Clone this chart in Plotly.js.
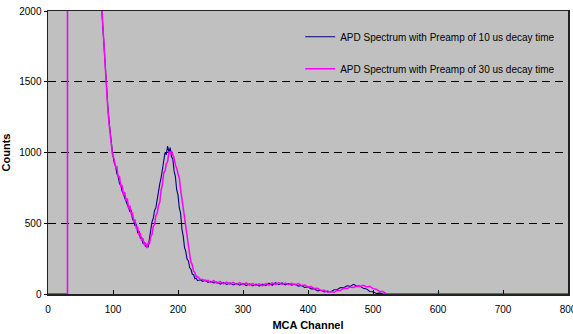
<!DOCTYPE html>
<html>
<head>
<meta charset="utf-8">
<script src="https://cdn.plot.ly/plotly-3.0.1.min.js"></script>
<style>html,body{margin:0;padding:0;background:#fff;}#chart{width:573px;height:334px;}</style>
</head>
<body>
<div id="chart"></div>
<script>
// Series names
const seriesNames = ["APD Spectrum with Preamp of 10 us decay time", "APD Spectrum with Preamp of 30 us decay time"];

// 10 us decay time: MCA channel and counts
const chan10 = [0, 30, 30, 40, 50, 60, 70, 80, 83,
  86, 89, 92, 94, 97, 99, 102, 104, 106, 108,
  110, 112, 114, 116, 118, 120, 122, 124, 126, 128,
  130, 132, 134, 136, 138, 140, 142, 144, 146, 148,
  150, 152, 154, 156, 158, 160, 162, 164, 166, 168,
  170, 172, 174, 176, 178, 180, 182, 184, 186, 188,
  190, 192, 194, 196, 198, 200, 202, 204, 206, 208,
  210, 212, 214, 216, 218, 220, 222, 224, 226, 228,
  230, 234, 238, 242, 246, 250, 255, 260, 265, 270,
  275, 280, 285, 290, 295, 300, 305, 310, 315, 320,
  325, 330, 335, 340, 345, 350, 355, 360, 365, 370,
  375, 380, 385, 390, 395, 400, 405, 410, 415, 420,
  425, 430, 435, 440, 445, 450, 455, 460, 465, 470,
  475, 480, 485, 490, 495, 500, 505, 510, 515, 520,
  530, 540, 560, 600, 700, 800];
const counts10 = [0, 0, 9000, 5600, 4600, 3700, 2900, 2200, 1990,
  1760, 1510, 1330, 1220, 1090, 1005, 925, 905, 850, 835,
  780, 770, 725, 710, 680, 660, 630, 610, 580, 595,
  530, 515, 480, 495, 430, 445, 395, 400, 360, 365,
  335, 350, 330, 400, 450, 510, 535, 590, 610, 680,
  710, 780, 820, 890, 935, 1000, 985, 1045, 1005, 1035,
  970, 955, 870, 830, 735, 700, 610, 570, 460, 410,
  330, 300, 245, 235, 185, 175, 140, 138, 108, 112,
  94, 100, 90, 98, 82, 90, 78, 84, 70, 80,
  68, 78, 64, 74, 62, 74, 60, 72, 58, 70,
  56, 70, 60, 76, 62, 80, 66, 78, 64, 74,
  62, 70, 56, 60, 46, 50, 36, 36, 22, 26,
  14, 20, 14, 30, 32, 46, 44, 58, 54, 68,
  56, 56, 40, 36, 18, 16, 4, 6, 1, 2,
  0, 0, 0, 0, 0, 0];

// 30 us decay time: MCA channel and counts
const chan30 = [0, 30, 30, 40, 50, 60, 70, 80, 83,
  86, 89, 92, 94, 97, 99, 102, 104, 106, 108,
  110, 112, 114, 116, 118, 120, 122, 124, 126, 128,
  130, 132, 134, 136, 138, 140, 142, 144, 146, 148,
  150, 152, 154, 156, 158, 160, 162, 164, 166, 168,
  170, 172, 174, 176, 178, 180, 182, 184, 186, 188,
  190, 192, 194, 196, 198, 200, 202, 204, 206, 208,
  210, 212, 214, 216, 218, 220, 222, 224, 226, 228,
  230, 234, 238, 242, 246, 250, 255, 260, 265, 270,
  275, 280, 285, 290, 295, 300, 305, 310, 315, 320,
  325, 330, 335, 340, 345, 350, 355, 360, 365, 370,
  375, 380, 385, 390, 395, 400, 405, 410, 415, 420,
  425, 430, 435, 440, 445, 450, 455, 460, 465, 470,
  475, 480, 485, 490, 495, 500, 505, 510, 515, 520,
  530, 540, 560, 600, 700, 800];
const counts30 = [0, 0, 9000, 5600, 4600, 3700, 2900, 2200, 2000,
  1740, 1500, 1310, 1200, 1070, 990, 950, 895, 900, 825,
  830, 760, 770, 700, 720, 660, 675, 605, 625, 565,
  575, 510, 525, 460, 475, 415, 430, 375, 395, 345,
  365, 325, 360, 350, 405, 420, 480, 490, 555, 570,
  625, 650, 735, 770, 855, 870, 920, 935, 1000, 995,
  1010, 985, 960, 910, 890, 850, 820, 740, 670, 590,
  540, 460, 410, 310, 280, 225, 205, 160, 152, 122,
  124, 104, 102, 92, 96, 82, 94, 76, 88, 72,
  84, 70, 82, 68, 80, 66, 78, 62, 74, 60,
  72, 58, 74, 62, 78, 66, 80, 68, 78, 66,
  76, 64, 74, 60, 64, 50, 52, 38, 40, 24,
  26, 12, 18, 12, 24, 24, 40, 38, 50, 46,
  56, 52, 62, 50, 54, 38, 34, 18, 18, 4,
  3, 0, 0, 0, 0, 0];

// Axis ticks
const xTicks = [0, 100, 200, 300, 400, 500, 600, 700, 800];
const yTicks = [0, 500, 1000, 1500, 2000];

const font = "Liberation Sans, Arial, Helvetica, sans-serif";

const traces = [
  {x: chan10, y: counts10, type: "scatter", mode: "lines", name: seriesNames[0],
   legendgroup: "a", line: {color: "#000080", width: 1.1}},
  {x: chan30, y: counts30, type: "scatter", mode: "lines", name: seriesNames[1],
   legendgroup: "b", line: {color: "#FF00FF", width: 1.5}}
];

const layout = {
  width: 573, height: 334,
  margin: {l: 48, r: 5, t: 11, b: 40},
  paper_bgcolor: "#FFFFFF",
  plot_bgcolor: "#C0C0C0",
  font: {family: font, size: 10, color: "#000"},
  showlegend: true,
  legend: {
    x: 0.485, y: 0.96, xanchor: "left", yanchor: "top",
    bgcolor: "rgba(0,0,0,0)", borderwidth: 0,
    font: {family: font, size: 10, color: "#000"},
    traceorder: "grouped", tracegroupgap: 13, itemwidth: 30
  },
  xaxis: {
    range: [0, 800], tickvals: xTicks, ticktext: xTicks.map(String),
    ticks: "inside", ticklen: 4, tickcolor: "#000", tickwidth: 1,
    showline: true, linecolor: "#222", linewidth: 1.5, mirror: true,
    showgrid: false, zeroline: false,
    ticklabeloverflow: "allow", ticklabelstandoff: 5,
    tickfont: {family: font, size: 10, color: "#000"},
    title: {text: "<b>MCA Channel</b>", font: {family: font, size: 11, color: "#000"}, standoff: 8}
  },
  yaxis: {
    range: [0, 2000], tickvals: yTicks, ticktext: yTicks.map(String),
    ticks: "outside", ticklen: 3, tickcolor: "#000", tickwidth: 1,
    showline: true, linecolor: "#222", linewidth: 1.5, mirror: true,
    showgrid: true, gridcolor: "#000", gridwidth: 1, griddash: "8px,5px",
    zeroline: false,
    tickfont: {family: font, size: 10, color: "#000"},
    title: {text: "<b>Counts</b>", font: {family: font, size: 11, color: "#000"}, standoff: 6}
  }
};

Plotly.newPlot("chart", traces, layout, {staticPlot: true, displayModeBar: false});
</script>
</body>
</html>
